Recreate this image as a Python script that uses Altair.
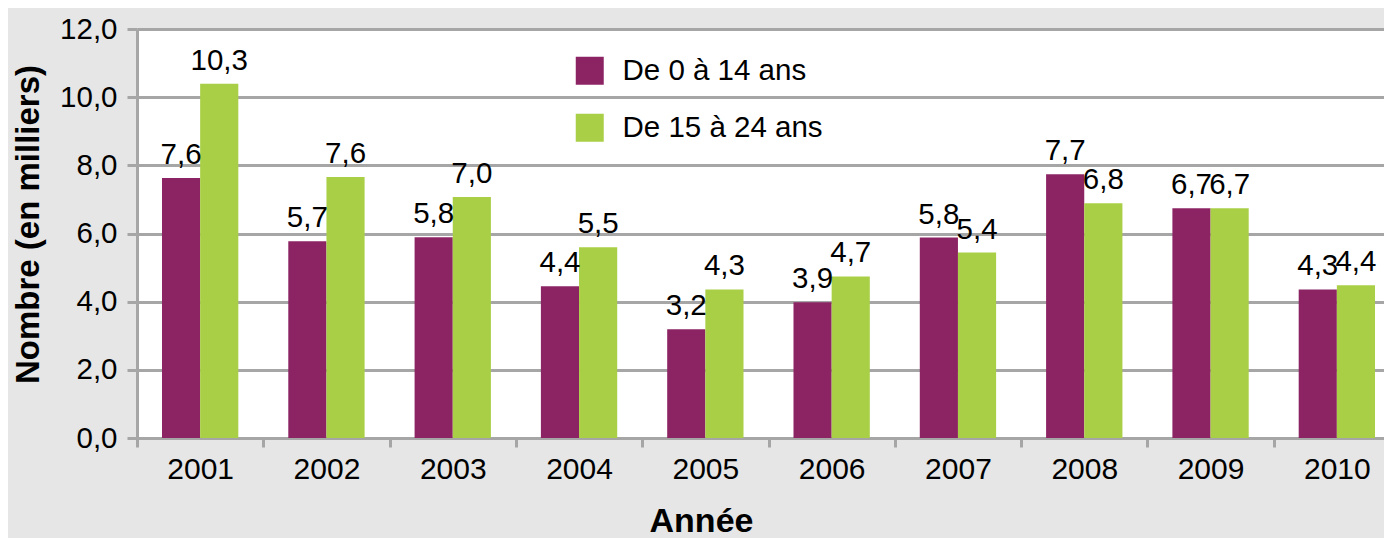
import altair as alt
import pandas as pd

years = ["2001", "2002", "2003", "2004", "2005", "2006", "2007", "2008", "2009", "2010"]
series = ["De 0 à 14 ans", "De 15 à 24 ans"]
vals_0_14 = [7.63, 5.77, 5.89, 4.45, 3.19, 3.98, 5.88, 7.74, 6.74, 4.36]
vals_15_24 = [10.39, 7.66, 7.07, 5.60, 4.36, 4.74, 5.44, 6.89, 6.74, 4.48]
labels_0_14 = ["7,6", "5,7", "5,8", "4,4", "3,2", "3,9", "5,8", "7,7", "6,7", "4,3"]
labels_15_24 = ["10,3", "7,6", "7,0", "5,5", "4,3", "4,7", "5,4", "6,8", "6,7", "4,4"]
y_ticks = [0, 2, 4, 6, 8, 10, 12]
colors = ["#8c2464", "#a9cf46"]

rows = []
for s, vals, labs in [(series[0], vals_0_14, labels_0_14), (series[1], vals_15_24, labels_15_24)]:
    for yr, v, lb in zip(years, vals, labs):
        rows.append({"annee": yr, "serie": s, "valeur": v, "label": lb})
df = pd.DataFrame(rows)

GRAY = "#a6a6a6"
STEP = 126.3

x_enc = alt.X(
    "annee:N",
    sort=years,
    title="Année",
    scale=alt.Scale(paddingInner=0, paddingOuter=0),
    axis=alt.Axis(
        labelAngle=0, labelFontSize=30, labelColor="black", labelPadding=7,
        tickSize=9, tickWidth=3, tickColor=GRAY, tickOffset=-STEP / 2, labelOffset=STEP / 2,
        domainColor=GRAY, domainWidth=3, grid=False,
        titleFontSize=34, titleFontWeight="bold", titleColor="black",
        titleX=564, titleY=93, titleBaseline="alphabetic",
    ),
)
xoff = alt.XOffset("serie:N", sort=series, scale=alt.Scale(paddingInner=0, paddingOuter=0.655))
y_enc = alt.Y(
    "valeur:Q",
    title="Nombre (en milliers)",
    scale=alt.Scale(domain=[0, 12], nice=False),
    axis=alt.Axis(
        values=y_ticks, labelExpr="replace(format(datum.value, '.1f'), '.', ',')",
        labelFontSize=29.5, labelColor="black", labelPadding=10,
        tickSize=10, tickWidth=3, tickColor=GRAY,
        domainColor=GRAY, domainWidth=3,
        grid=True, gridColor=GRAY, gridWidth=3,
        titleFontSize=33, titleFontWeight="bold", titleColor="black",
        titleX=-92, titleY=195,
    ),
)

bars = alt.Chart(df).mark_bar().encode(
    x=x_enc,
    xOffset=xoff,
    y=y_enc,
    color=alt.Color(
        "serie:N", sort=series, title=None,
        scale=alt.Scale(domain=series, range=colors),
        legend=alt.Legend(
            orient="none", legendX=438, legendY=27,
            symbolType="square", symbolSize=784, symbolStrokeWidth=0, symbolOpacity=1,
            labelFontSize=29.5, labelColor="black", labelOffset=18, labelLimit=1000,
            rowPadding=26, padding=0,
        ),
    ),
)

text = alt.Chart(df).mark_text(fontSize=29.5, baseline="alphabetic", dy=-14, color="black").encode(
    x=alt.X("annee:N", sort=years),
    xOffset=alt.XOffset("serie:N", sort=series),
    y=alt.Y("valeur:Q"),
    text="label:N",
)

chart = (
    alt.layer(bars, text)
    .properties(
        width=1263, height=409,
        autosize=alt.AutoSizeParams(type="none"),
        padding={"left": 129, "top": 21, "right": -16, "bottom": 100},
        background="#e6e6e6",
    )
    .configure(font="Liberation Sans")
    .configure_view(fill="white", stroke="transparent")
)

chart.save("out.html", embed_options={"renderer": "svg", "actions": False})
